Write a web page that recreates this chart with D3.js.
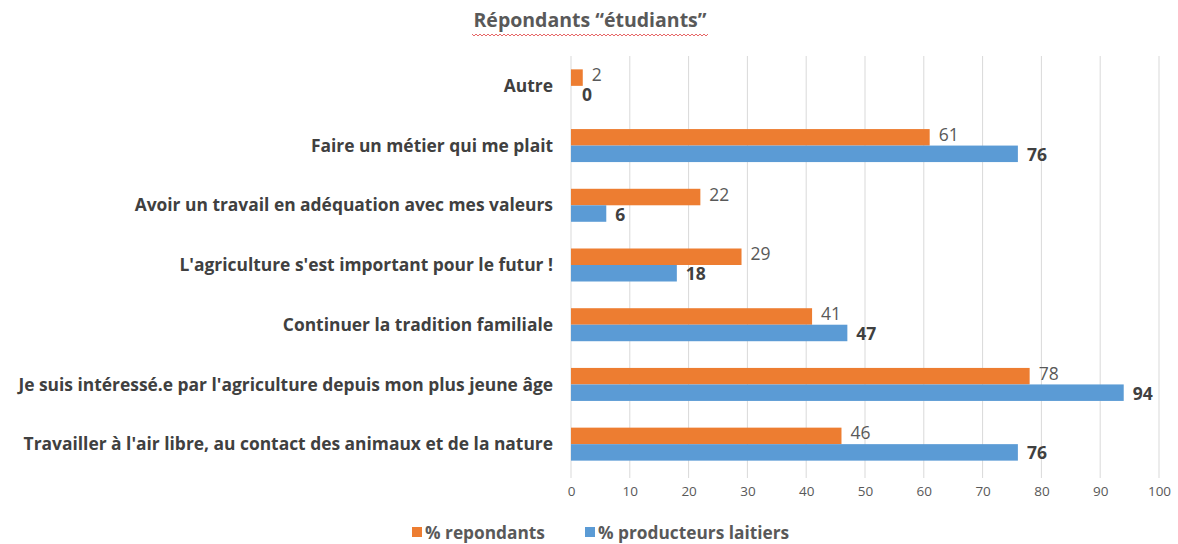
<!DOCTYPE html>
<html lang="fr">
<head>
<meta charset="utf-8">
<script src="https://d3js.org/d3.v7.min.js"></script>
<style>
  body { margin: 0; background: #fff; }
  text { font-family: "Open Sans", sans-serif; }
</style>
</head>
<body>
<script>
// categories, top to bottom as shown
const categories = [
  "Autre",
  "Faire un métier qui me plait",
  "Avoir un travail en adéquation avec mes valeurs",
  "L'agriculture s'est important pour le futur !",
  "Continuer la tradition familiale",
  "Je suis intéressé.e par l'agriculture depuis mon plus jeune âge",
  "Travailler à l'air libre, au contact des animaux et de la nature"
];
const repondants = [2, 61, 22, 29, 41, 78, 46];
const producteurs = [0, 76, 6, 18, 47, 94, 76];
const xTicks = [0, 10, 20, 30, 40, 50, 60, 70, 80, 90, 100];
const seriesNames = ["% repondants", "% producteurs laitiers"];
const colors = ["#ED7D31", "#5B9BD5"];

const W = 1178, H = 544;
const svg = d3.select("body").append("svg").attr("width", W).attr("height", H);

const x = d3.scaleLinear().domain([0, 100]).range([571, 1159]);
const y = d3.scaleBand().domain(categories).range([56, 474]).paddingInner(0.44).paddingOuter(0.22);

// title
svg.append("text")
  .attr("x", 590).attr("y", 27)
  .attr("text-anchor", "middle")
  .attr("font-size", 19.5).attr("font-weight", "bold").attr("fill", "#595959")
  .text("Répondants “étudiants”");
// spell-check squiggle under title
let sq = "M472,34";
for (let i = 474; i <= 708; i += 2) sq += "L" + i + "," + ((i / 2) % 2 === 0 ? 34 : 36);
svg.append("path").attr("d", sq).attr("fill", "none").attr("stroke", "#e04040").attr("stroke-width", 0.8);

// gridlines
svg.append("g").selectAll("line").data(xTicks).join("line")
  .attr("x1", d => x(d)).attr("x2", d => x(d))
  .attr("y1", 56).attr("y2", 478)
  .attr("stroke", "#d9d9d9").attr("stroke-width", 1);

// x axis labels
const xAxis = d3.axisBottom(x).tickValues(xTicks).tickSize(0).tickPadding(0);
const gx = svg.append("g").attr("transform", "translate(0,486)").call(xAxis);
gx.select(".domain").remove();
gx.selectAll("text").attr("font-size", 13.5).attr("fill", "#595959")
  .attr("font-family", "'Open Sans', sans-serif");

// category labels
svg.append("g").selectAll("text").data(categories).join("text")
  .attr("x", 553)
  .attr("y", d => y(d) + y.bandwidth() / 2)
  .attr("dy", "0.35em")
  .attr("text-anchor", "end")
  .attr("font-size", 17.4).attr("font-weight", "bold").attr("fill", "#404040")
  .text(d => d);

const bh = 16.5;

// bars
const rows = categories.map((c, i) => ({ c, vals: [repondants[i], producteurs[i]] }));
const g = svg.append("g").selectAll("g").data(rows).join("g")
  .attr("transform", d => `translate(0,${y(d.c) + y.bandwidth() / 2 - bh})`);

g.selectAll("rect").data(d => d.vals).join("rect")
  .attr("x", x(0))
  .attr("y", (d, i) => i * bh)
  .attr("width", d => x(d) - x(0))
  .attr("height", bh)
  .attr("fill", (d, i) => colors[i]);

g.selectAll("text").data(d => d.vals).join("text")
  .attr("x", d => x(d) + (d === 0 ? 11 : 9))
  .attr("y", (d, i) => i * bh + bh / 2)
  .attr("dy", (d, i) => i === 0 ? "0.2em" : "0.4em")
  .attr("font-size", 17.5)
  .attr("font-weight", (d, i) => i === 0 ? "normal" : "bold")
  .attr("fill", (d, i) => i === 0 ? "#595959" : "#404040")
  .text(d => d);

// legend
const leg = svg.append("g");
const legX = [412, 585];
seriesNames.forEach((s, i) => {
  leg.append("rect").attr("x", legX[i]).attr("y", 527).attr("width", 10).attr("height", 10).attr("fill", colors[i]);
  leg.append("text").attr("x", legX[i] + 13).attr("y", 539)
    .attr("font-size", 17.3).attr("font-weight", "bold").attr("fill", "#595959").text(s);
});
</script>
</body>
</html>
